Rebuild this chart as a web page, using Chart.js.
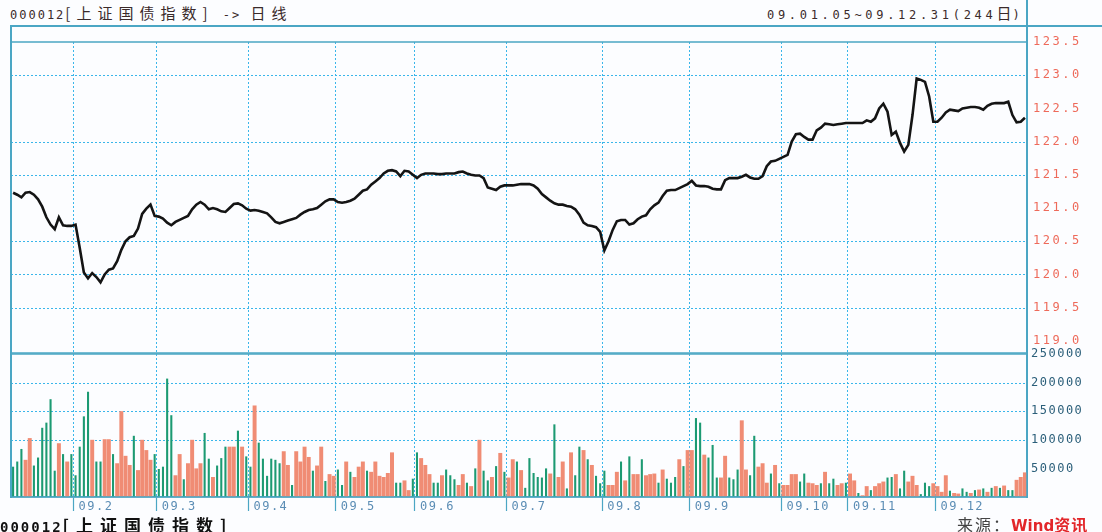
<!DOCTYPE html>
<html>
<head>
<meta charset="utf-8">
<script src="https://cdn.jsdelivr.net/npm/chart.js@4/dist/chart.umd.min.js"></script>
<style>
  body { margin: 0; width: 1102px; height: 532px; overflow: hidden; background: #fcfdff; position: relative; }
  canvas { position: absolute; left: 0; }
  .ln { position: absolute; background: #4ba6c4; }
  .txt { position: absolute; white-space: nowrap; line-height: 20px; }
  .num { font-family: "DejaVu Sans Mono", monospace; font-size: 12px; letter-spacing: 2px; }
  .cjk { font-family: "Noto Sans CJK SC", sans-serif; font-size: 15px; letter-spacing: 6px; }
</style>
</head>
<body>
<div class="txt" style="left:10px;top:3px;color:#3a2a2a;">
  <span class="num">000012</span><span class="cjk">[上证国债指数]</span><span class="num"> -&gt; </span><span class="cjk">日线</span>
</div>
<div class="txt" style="left:767px;top:3px;color:#3a2a2a;">
  <span class="num" style="letter-spacing:3.7px">09.01.05~09.12.31(244</span><span class="cjk" style="letter-spacing:1px">日</span><span class="num">)</span>
</div>
<div class="ln" style="left:10px;top:25px;width:1092px;height:1.5px;"></div>
<div class="ln" style="left:1026px;top:0;width:1.5px;height:498px;"></div>
<div class="ln" style="left:10px;top:25px;width:1.5px;height:473px;"></div>

<canvas id="price" width="1102" height="330" style="top:25px"></canvas>
<canvas id="vol" width="1102" height="192" style="top:340px"></canvas>

<div class="txt" style="left:0;top:515px;color:#111;font-weight:bold;">
  <span class="num" style="font-size:14px;letter-spacing:2px;font-weight:bold">000012</span><span class="cjk" style="font-size:17px;letter-spacing:7px;font-weight:bold">[上证国债指数]</span>
</div>
<div class="txt" style="left:957px;top:514px;">
  <span class="cjk" style="font-size:16px;letter-spacing:2px;color:#444">来源：</span><span style="font-family:'DejaVu Sans',sans-serif;font-size:15px;font-weight:bold;color:#e2262a">Wind</span><span class="cjk" style="font-size:16px;letter-spacing:1px;color:#e2262a;font-weight:bold">资讯</span>
</div>

<script>
const monthNames = ['09.1', '09.2', '09.3', '09.4', '09.5', '09.6', '09.7', '09.8', '09.9', '09.10', '09.11', '09.12'];
const monthDays = [15, 20, 22, 21, 19, 22, 23, 21, 22, 16, 21, 22];

const priceTicks = [119.0, 119.5, 120.0, 120.5, 121.0, 121.5, 122.0, 122.5, 123.0, 123.5];
const priceGridAt = [119.5, 120.0, 120.5, 121.5, 122.0, 123.0];
const volTicks = [50000, 100000, 150000, 200000, 250000];
const volGridAt = [100000, 150000, 200000];

// daily close, 244 trading days
const close = [
  121.23, 121.20, 121.16, 121.23, 121.24, 121.20, 121.13, 121.02, 120.86, 120.75,
  120.68, 120.86, 120.74, 120.73, 120.73,
  120.75, 120.40, 120.03, 119.94, 120.02, 119.96, 119.88, 120.00, 120.07, 120.09,
  120.20, 120.37, 120.50, 120.56, 120.58, 120.69, 120.91, 120.99, 121.05, 120.88,
  120.87, 120.84, 120.78, 120.74, 120.79, 120.82, 120.85, 120.88, 120.98, 121.05,
  121.09, 121.05, 120.98, 121.00, 120.98, 120.95, 120.94, 121.00, 121.06, 121.07,
  121.04, 120.99,
  120.96, 120.97, 120.96, 120.94, 120.92, 120.86, 120.79, 120.77, 120.79, 120.81,
  120.83, 120.85, 120.90, 120.94, 120.97, 120.98, 121.00, 121.05, 121.10, 121.13,
  121.13,
  121.09, 121.08, 121.09, 121.11, 121.14, 121.20, 121.26, 121.28, 121.35, 121.40,
  121.45, 121.52, 121.56, 121.57, 121.55, 121.48, 121.56, 121.55, 121.50,
  121.45, 121.50, 121.52, 121.52, 121.52, 121.51, 121.51, 121.52, 121.52, 121.52,
  121.54, 121.55, 121.52, 121.50, 121.49, 121.49, 121.45, 121.31, 121.29, 121.27,
  121.32, 121.34,
  121.34, 121.34, 121.35, 121.36, 121.36, 121.36, 121.34, 121.29, 121.21, 121.16,
  121.11, 121.07, 121.05, 121.05, 121.03, 121.02, 120.98, 120.90, 120.78, 120.74,
  120.73, 120.71, 120.64,
  120.36, 120.50, 120.67, 120.80, 120.82, 120.82, 120.75, 120.77, 120.83, 120.87,
  120.89, 120.98, 121.04, 121.08, 121.18, 121.26, 121.27, 121.27, 121.30, 121.33,
  121.36,
  121.41, 121.34, 121.33, 121.33, 121.32, 121.29, 121.28, 121.28, 121.42, 121.45,
  121.45, 121.45, 121.47, 121.50, 121.46, 121.44, 121.44, 121.48, 121.63, 121.70,
  121.71, 121.74,
  121.77, 121.80, 122.00, 122.11, 122.12, 122.07, 122.03, 122.03, 122.17, 122.21,
  122.27, 122.26, 122.25, 122.26, 122.27, 122.28,
  122.28, 122.28, 122.28, 122.28, 122.32, 122.30, 122.35, 122.50, 122.57, 122.45,
  122.10, 122.15, 121.98, 121.85, 121.95, 122.40, 122.95, 122.93, 122.90, 122.68,
  122.30,
  122.30, 122.36, 122.44, 122.48, 122.47, 122.46, 122.50, 122.51, 122.52, 122.52,
  122.51, 122.48, 122.54, 122.57, 122.58, 122.58, 122.58, 122.60, 122.40, 122.29,
  122.30, 122.36
];

const volume = [
  53000, 62000, 84000, 65000, 103000, 55000, 69000, 121000, 130000, 171000,
  46000, 94000, 75000, 62000, 75000, 38000, 88000, 141000, 184000, 100000,
  62000, 62000, 101000, 101000, 75000, 59000, 150000, 72000, 56000, 107000,
  47000, 100000, 82000, 65000, 75000, 49000, 53000, 207000, 143000, 38000,
  75000, 31000, 59000, 100000, 50000, 59000, 112000, 67000, 35000, 55000,
  68000, 88000, 88000, 88000, 116000, 88000, 71000, 53000, 160000, 95000,
  67000, 37000, 67000, 65000, 59000, 80000, 56000, 21000, 80000, 62000,
  88000, 70000, 46000, 55000, 88000, 28000, 40000, 37000, 48000, 21000,
  62000, 44000, 35000, 53000, 62000, 46000, 44000, 62000, 37000, 35000,
  42000, 78000, 25000, 25000, 29000, 12000, 32000, 78000, 68000, 56000,
  40000, 25000, 25000, 38000, 48000, 38000, 31000, 21000, 40000, 25000,
  19000, 50000, 100000, 46000, 29000, 35000, 54000, 77000, 44000, 34000,
  66000, 62000, 47000, 16000, 68000, 42000, 35000, 34000, 50000, 41000,
  127000, 35000, 62000, 15000, 78000, 38000, 88000, 82000, 66000, 56000,
  37000, 24000, 46000, 21000, 21000, 44000, 62000, 29000, 71000, 40000,
  40000, 66000, 38000, 40000, 41000, 25000, 48000, 32000, 25000, 35000,
  66000, 54000, 82000, 82000, 138000, 130000, 74000, 69000, 91000, 34000,
  34000, 72000, 34000, 31000, 48000, 134000, 48000, 38000, 107000, 53000,
  59000, 25000, 41000, 56000, 24000, 21000, 21000, 40000, 40000, 27000,
  41000, 25000, 24000, 21000, 24000, 44000, 24000, 32000, 21000, 24000,
  25000, 41000, 29000, 7000, 3000, 19000, 12000, 19000, 24000, 27000,
  34000, 35000, 40000, 15000, 46000, 27000, 37000, 21000, 5000, 25000,
  19000, 24000, 19000, 9000, 38000, 11000, 7000, 6000, 15000, 9000,
  7000, 12000, 13000, 15000, 9000, 16000, 19000, 16000, 20000, 12000,
  12000, 30000, 35000, 43000
];

// 1 = up day (red bar), 0 = down day (green bar)
const volUp = [
  0, 0, 0, 1, 1, 0, 0, 0, 0, 0,  0, 1, 0, 1, 0, 0, 0, 0, 0, 1,
  0, 0, 1, 1, 0, 1, 1, 1, 1, 0,  1, 1, 1, 1, 0, 0, 0, 0, 0, 1,
  1, 0, 1, 1, 1, 1, 0, 0, 1, 0,  0, 0, 1, 1, 0, 1, 0, 0, 1, 0,
  0, 0, 0, 0, 0, 1, 1, 0, 1, 1,  1, 1, 0, 1, 1, 0, 1, 1, 0, 0,
  1, 0, 1, 1, 1, 0, 1, 1, 1, 1,  1, 1, 0, 0, 1, 1, 0, 0, 1, 1,
  1, 0, 0, 1, 0, 0, 0, 1, 1, 0,  1, 0, 1, 0, 0, 1, 0, 1, 0, 1,
  1, 0, 1, 0, 0, 0, 0, 0, 0, 1,  0, 1, 1, 0, 1, 0, 0, 1, 0, 1,
  0, 0, 0, 1, 1, 1, 0, 1, 0, 1,  1, 0, 1, 1, 1, 0, 1, 0, 0, 0,
  1, 0, 1, 1, 0, 0, 1, 0, 0, 0,  1, 1, 0, 0, 0, 1, 1, 0, 0, 1,
  1, 1, 0, 1, 0, 1, 1, 1, 1, 0,  0, 1, 1, 1, 0, 1, 0, 0, 1, 1,
  0, 1, 1, 0, 1, 1, 0, 1, 1, 1,  0, 0, 1, 0, 0, 1, 1, 1, 0, 0,
  0, 1, 1, 1, 1, 0, 1, 1, 0, 0,  1, 0, 1, 0, 1, 0, 1, 0, 1, 0,
  0, 1, 1, 1
];

const labels = [];
const monthStart = [];
monthDays.forEach((n, m) => {
  for (let d = 0; d < n; d++) {
    labels.push(monthNames[m]);
    monthStart.push(d === 0 && m > 0);
  }
});

const frameColor = '#4ba6c4';
const dotColor = '#3ab6ea';
const clear = 'rgba(0,0,0,0)';

const framePlugin = {
  id: 'frame',
  afterDraw(chart) {
    const a = chart.chartArea, ctx = chart.ctx;
    ctx.save();
    ctx.strokeStyle = frameColor;
    ctx.lineWidth = 1.5;
    ctx.strokeRect(a.left, a.top, a.right - a.left, a.bottom - a.top);
    ctx.restore();
  }
};
// dotted horizontal lines only at chosen values of the y scale
const hGrid = (values) => ({
  id: 'hGrid',
  beforeDatasetsDraw(chart) {
    const a = chart.chartArea, ctx = chart.ctx, y = chart.scales.y;
    ctx.save();
    ctx.strokeStyle = dotColor;
    ctx.lineWidth = 1;
    ctx.setLineDash([2, 2]);
    values.forEach(v => {
      const py = Math.round(y.getPixelForValue(v)) + 0.5;
      ctx.beginPath();
      ctx.moveTo(a.left, py);
      ctx.lineTo(a.right, py);
      ctx.stroke();
    });
    ctx.restore();
  }
});
const spacing = (px) => ({
  id: 'spacing',
  beforeDraw(chart) { chart.ctx.letterSpacing = px; }
});

const monthGrid = (ctx) => monthStart[ctx.index] ? dotColor : clear;

// price panel
new Chart(document.getElementById('price'), {
  type: 'line',
  data: {
    labels: labels,
    datasets: [{
      data: close,
      borderColor: '#141414',
      borderWidth: 2.6,
      pointRadius: 0,
      tension: 0
    }]
  },
  options: {
    responsive: false,
    animation: false,
    events: [],
    layout: { padding: { left: 11, top: 17, right: 0, bottom: 2 } },
    plugins: { legend: { display: false }, tooltip: { enabled: false } },
    scales: {
      x: {
        offset: true,
        ticks: { display: false, autoSkip: false },
        grid: { color: monthGrid, offset: true, drawTicks: false, lineWidth: 1 },
        border: { display: false, dash: [2, 2] },
        afterFit: (s) => { s.height = 0; s.paddingLeft = 0; s.paddingRight = 0; }
      },
      y: {
        position: 'right',
        min: 118.816,
        max: 123.5,
        afterBuildTicks: (axis) => { axis.ticks = priceTicks.map(v => ({ value: v })); },
        afterFit: (s) => { s.width = 75; s.paddingTop = 0; s.paddingBottom = 0; },
        ticks: {
          padding: 6,
          color: '#ee6a5a',
          font: { family: 'DejaVu Sans Mono', size: 12 },
          callback: (v) => Number(v).toFixed(1)
        },
        grid: { display: false, drawTicks: false },
        border: { color: frameColor, width: 1.5 }
      }
    }
  },
  plugins: [framePlugin, hGrid(priceGridAt), spacing('2.5px')]
});

// volume panel
new Chart(document.getElementById('vol'), {
  type: 'bar',
  data: {
    labels: labels,
    datasets: [
      {
        data: volume.map((v, i) => volUp[i] ? v : null),
        backgroundColor: '#f08c74',
        grouped: false,
        barPercentage: 0.95,
        categoryPercentage: 1.0
      },
      {
        data: volume.map((v, i) => volUp[i] ? null : v),
        backgroundColor: '#1c9a72',
        grouped: false,
        barPercentage: 0.5,
        categoryPercentage: 1.0
      }
    ]
  },
  options: {
    responsive: false,
    animation: false,
    events: [],
    layout: { padding: { left: 11, top: 14, right: 0, bottom: 0 } },
    plugins: { legend: { display: false }, tooltip: { enabled: false } },
    scales: {
      x: {
        offset: true,
        afterFit: (s) => { s.height = 35; s.paddingLeft = 0; s.paddingRight = 0; },
        ticks: {
          autoSkip: false,
          maxRotation: 0,
          minRotation: 0,
          align: 'start',
          labelOffset: 3,
          padding: -11,
          color: '#5b8db5',
          font: { family: 'DejaVu Sans Mono', size: 12 },
          callback: (v, i) => monthStart[i] ? labels[i] : ''
        },
        grid: {
          color: monthGrid,
          offset: true,
          tickColor: (ctx) => monthStart[ctx.index] ? frameColor : clear,
          tickLength: 14,
          tickWidth: 1.2,
          tickBorderDash: [20, 0]
        },
        border: { color: frameColor, width: 1.5, dash: [2, 2] }
      },
      y: {
        position: 'right',
        min: 0,
        max: 250000,
        afterBuildTicks: (axis) => { axis.ticks = volTicks.map(v => ({ value: v })); },
        afterFit: (s) => { s.width = 75; },
        ticks: {
          padding: 4,
          color: '#2b5f7a',
          font: { family: 'DejaVu Sans Mono', size: 12 },
          callback: (v) => String(v)
        },
        grid: { display: false, drawTicks: false },
        border: { color: frameColor, width: 1.5 }
      }
    }
  },
  plugins: [framePlugin, hGrid(volGridAt), spacing('1.5px')]
});
</script>
</body>
</html>
